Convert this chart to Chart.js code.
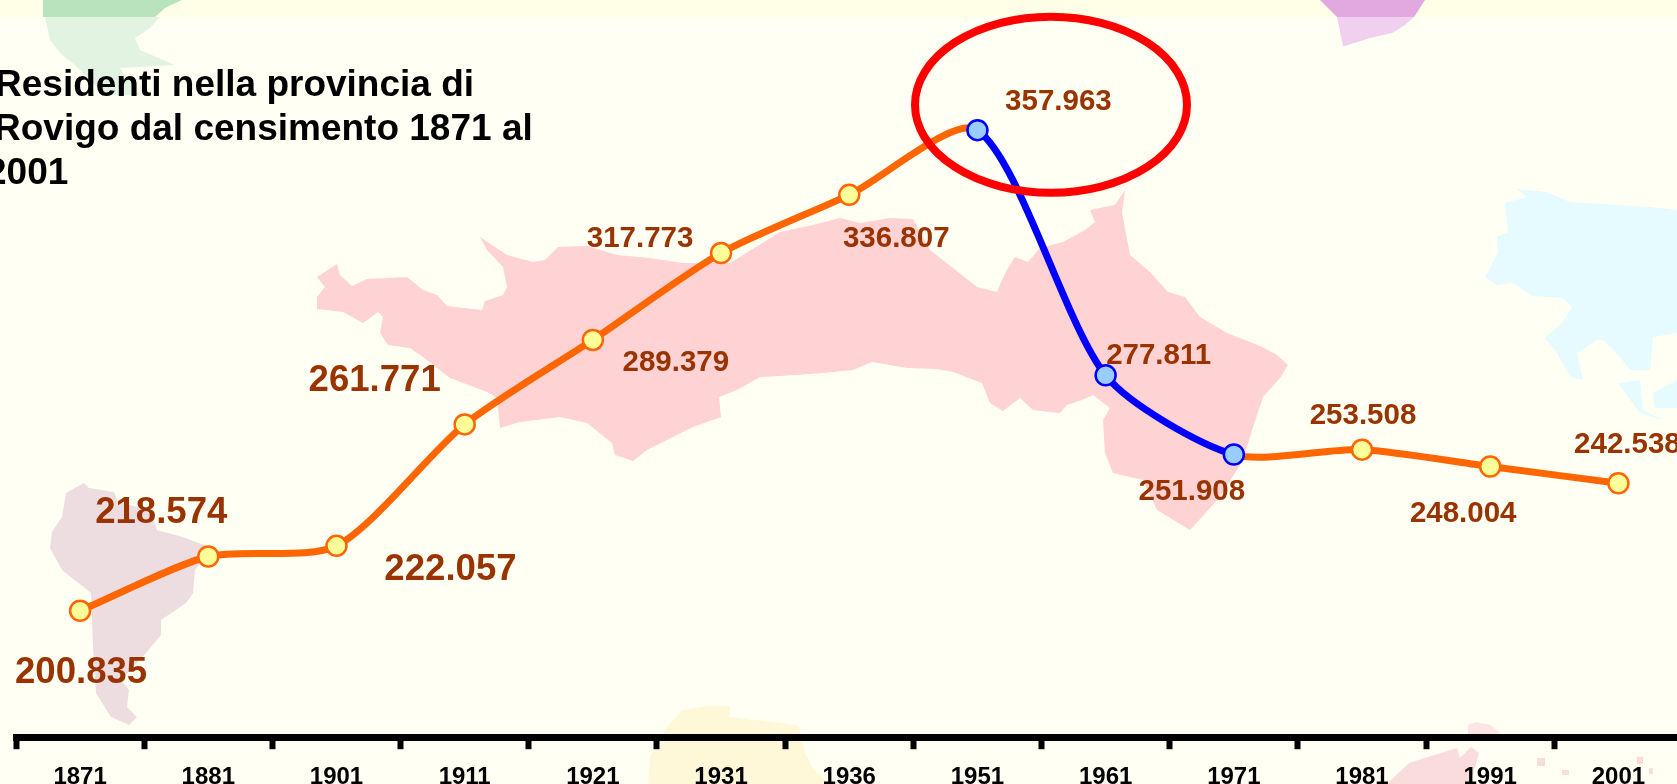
<!DOCTYPE html>
<html><head><meta charset="utf-8">
<style>
html,body{margin:0;padding:0;width:1677px;height:784px;overflow:hidden;background:#FFFFF3}
#bg{position:absolute;left:0;top:0}
canvas{position:absolute;left:-20px;top:0}
</style>
<script src="https://cdn.jsdelivr.net/npm/chart.js@4"></script>
</head><body>
<svg id="bg" width="1677" height="784">
<rect x="0" y="0" width="1677" height="17" fill="#FFFFE8"/>
<path fill="#B9E3BD" d="M43 0 L182 0 L165 8 L155 17 L43 17 Z"/>
<path fill="#E3F3E2" d="M45 17 L160 17 L150 28 L135 38 L140 50 L175 65 L120 68 L140 95 L105 95 L75 65 L62 55 L50 40 Z"/>
<path fill="#E2A8E0" d="M1320 0 L1425 0 L1414 17 L1337 17 Z"/>
<path fill="#F0D0EE" d="M1337 17 L1414 17 L1405 25 L1392 33 L1370 38 L1345 46 L1343 46 Z"/>
<path fill="#E5FBFF" d="M1517 189 L1547 192 L1570 202 L1650 207 L1677 210 L1677 333 L1653 337 L1650 370 L1630 370 L1620 357 L1603 340 L1597 340 L1577 353 L1583 380 L1570 377 L1557 353 L1545 338 L1562 323 L1572 307 L1563 298 L1532 296 L1513 283 L1497 285 L1485 277 L1498 253 L1497 237 L1508 232 L1505 203 L1527 197 Z"/>
<path fill="#E5FBFF" d="M1618 383 L1640 380 L1643 410 L1663 420 L1640 413 Z M1653 393 L1677 380 L1677 408 L1655 408 Z"/>
<path fill="#EEDDE0" d="M84 483 L66 493 L62 517 L52 532 L50 548 L62 570 L91 593 L93 647 L96 693 L111 717 L129 725 L137 717 L127 707 L129 690 L121 680 L146 653 L161 635 L161 620 L186 603 L193 593 L195 570 L211 548 L186 538 L157 530 L150 510 L118 502 L114 492 L89 488 Z"/>
<path fill="#FFF8D8" d="M707 706 L730 706 L730 717 L797 725 L800 730 L805 753 L813 768 L830 784 L648 784 L650 757 L667 727 L682 710 Z"/>
<path fill="#FBDCDC" d="M1387 784 L1409 763 L1457 748 L1460 758 L1471 747 L1479 753 L1470 784 Z"/>
<path fill="#FDE5E5" d="M1468 725 L1476 722 L1490 725 L1501 733 L1468 740 Z"/>
<path fill="#FBDCDC" d="M1537 758 h8 v8 h-8 Z M1562 770 h7 v5 h-7 Z M1637 757 h6 v7 h-6 Z M1649 768 h4 v6 h-4 Z"/>
<path fill="#FFD2D4" d="M317 277 L337 264 L340 275 L352 286 L367 279 L407 277 L423 290 L437 295 L447 306 L482 310 L485 301 L503 295 L507 287 L503 267 L487 250 L480 237 L507 255 L533 262 L545 260 L558 247 L587 246 L617 255 L650 258 L683 263 L730 263 L780 232 L813 225 L840 218 L860 223 L890 218 L913 219 L930 250 L953 268 L977 287 L997 292 L1002 280 L1008 268 L1015 257 L1028 262 L1040 248 L1063 242 L1085 230 L1095 222 L1090 210 L1115 205 L1125 190 L1122 213 L1130 255 L1150 272 L1168 292 L1185 297 L1200 317 L1227 333 L1260 346 L1277 355 L1288 365 L1280 378 L1263 397 L1253 427 L1243 460 L1220 497 L1190 530 L1157 510 L1143 480 L1113 473 L1105 453 L1103 420 L1110 408 L1093 395 L1082 400 L1067 405 L1060 413 L1033 410 L1020 398 L1003 411 L990 403 L982 383 L953 372 L937 369 L907 368 L872 362 L853 370 L823 373 L780 376 L760 377 L737 390 L719 397 L721 417 L693 427 L647 450 L633 461 L615 455 L612 443 L587 423 L560 417 L520 422 L500 428 L497 398 L487 392 L450 378 L423 357 L410 348 L388 345 L380 333 L383 317 L378 312 L363 323 L343 312 L317 309 L317 297 L325 287 Z"/>
</svg>
<canvas id="c" width="1715" height="806"></canvas>
<script>
const categories=['1871','1881','1901','1911','1921','1931','1936','1951','1961','1971','1981','1991','2001'];
const residents=[200835,218574,222057,261771,289379,317773,336807,357963,277811,251908,253508,248004,242538];
const labels=['200.835','218.574','222.057','261.771','289.379','317.773','336.807','357.963','277.811','251.908','253.508','248.004','242.538'];
const highlighted=[7,8,9];
const titleLines=['Residenti nella provincia di','Rovigo dal censimento 1871 al','2001'];
const titleX=[15,14,6];
const labelStyle=[[1,62,36.6],[-47,-44,36.6],[114,24,36.6],[-90,-43,36.6],[83,23,29.5],[-81,-14,29.5],[47,44,29.5],[81,-28,29.5],[53,-19,29.5],[-42,37,29.5],[1,-34,29.5],[-27,47,29.5],[9,-38,29.5]];
const overlay={id:'overlay',afterDatasetsDraw(ch){
 const c=ch.ctx,m=ch.getDatasetMeta(0).data;
 c.save();c.textAlign='center';c.textBaseline='middle';
 labels.forEach((t,i)=>{const s=labelStyle[i];c.fillStyle='#993300';c.font='bold '+s[2]+'px "Liberation Sans"';c.fillText(t,m[i].x+s[0],m[i].y+s[1]);});
 c.strokeStyle='#FF0000';c.lineWidth=8;c.beginPath();c.ellipse(1071,104.7,136,88,0,0,Math.PI*2);c.stroke();
 c.fillStyle='#000';c.textAlign='left';c.textBaseline='alphabetic';c.font='bold 37px "Liberation Sans"';
 titleLines.forEach((t,i)=>c.fillText(t,titleX[i],96+i*44));
 c.restore();
}};
new Chart(document.getElementById('c'),{type:'line',
 data:{labels:categories,datasets:[{data:residents,borderColor:'#FF6600',borderWidth:7,tension:0.25,
  segment:{borderColor:x=>highlighted.includes(x.p0DataIndex)&&highlighted.includes(x.p1DataIndex)?'#0000FF':'#FF6600'},
  pointRadius:10,pointBorderWidth:2.5,
  pointBackgroundColor:x=>highlighted.includes(x.dataIndex)?'#99CCFF':'#FFFF99',
  pointBorderColor:x=>highlighted.includes(x.dataIndex)?'#0000FF':'#FF6600'}]},
 options:{responsive:false,animation:false,layout:{padding:{left:36,right:0,top:0,bottom:0}},
  plugins:{legend:{display:false},tooltip:{enabled:false}},
  scales:{
   y:{display:false,min:159506,max:396418},
   x:{offset:true,border:{display:true,color:'#000',width:7},
    grid:{offset:true,drawOnChartArea:false,drawTicks:true,tickLength:12,tickWidth:6,color:'#000'},
    ticks:{color:'#000',font:{family:'"Liberation Sans"',size:24,weight:'bold'},padding:14,maxRotation:0,autoSkip:false}}}
 },plugins:[overlay]});
</script>
</body></html>
